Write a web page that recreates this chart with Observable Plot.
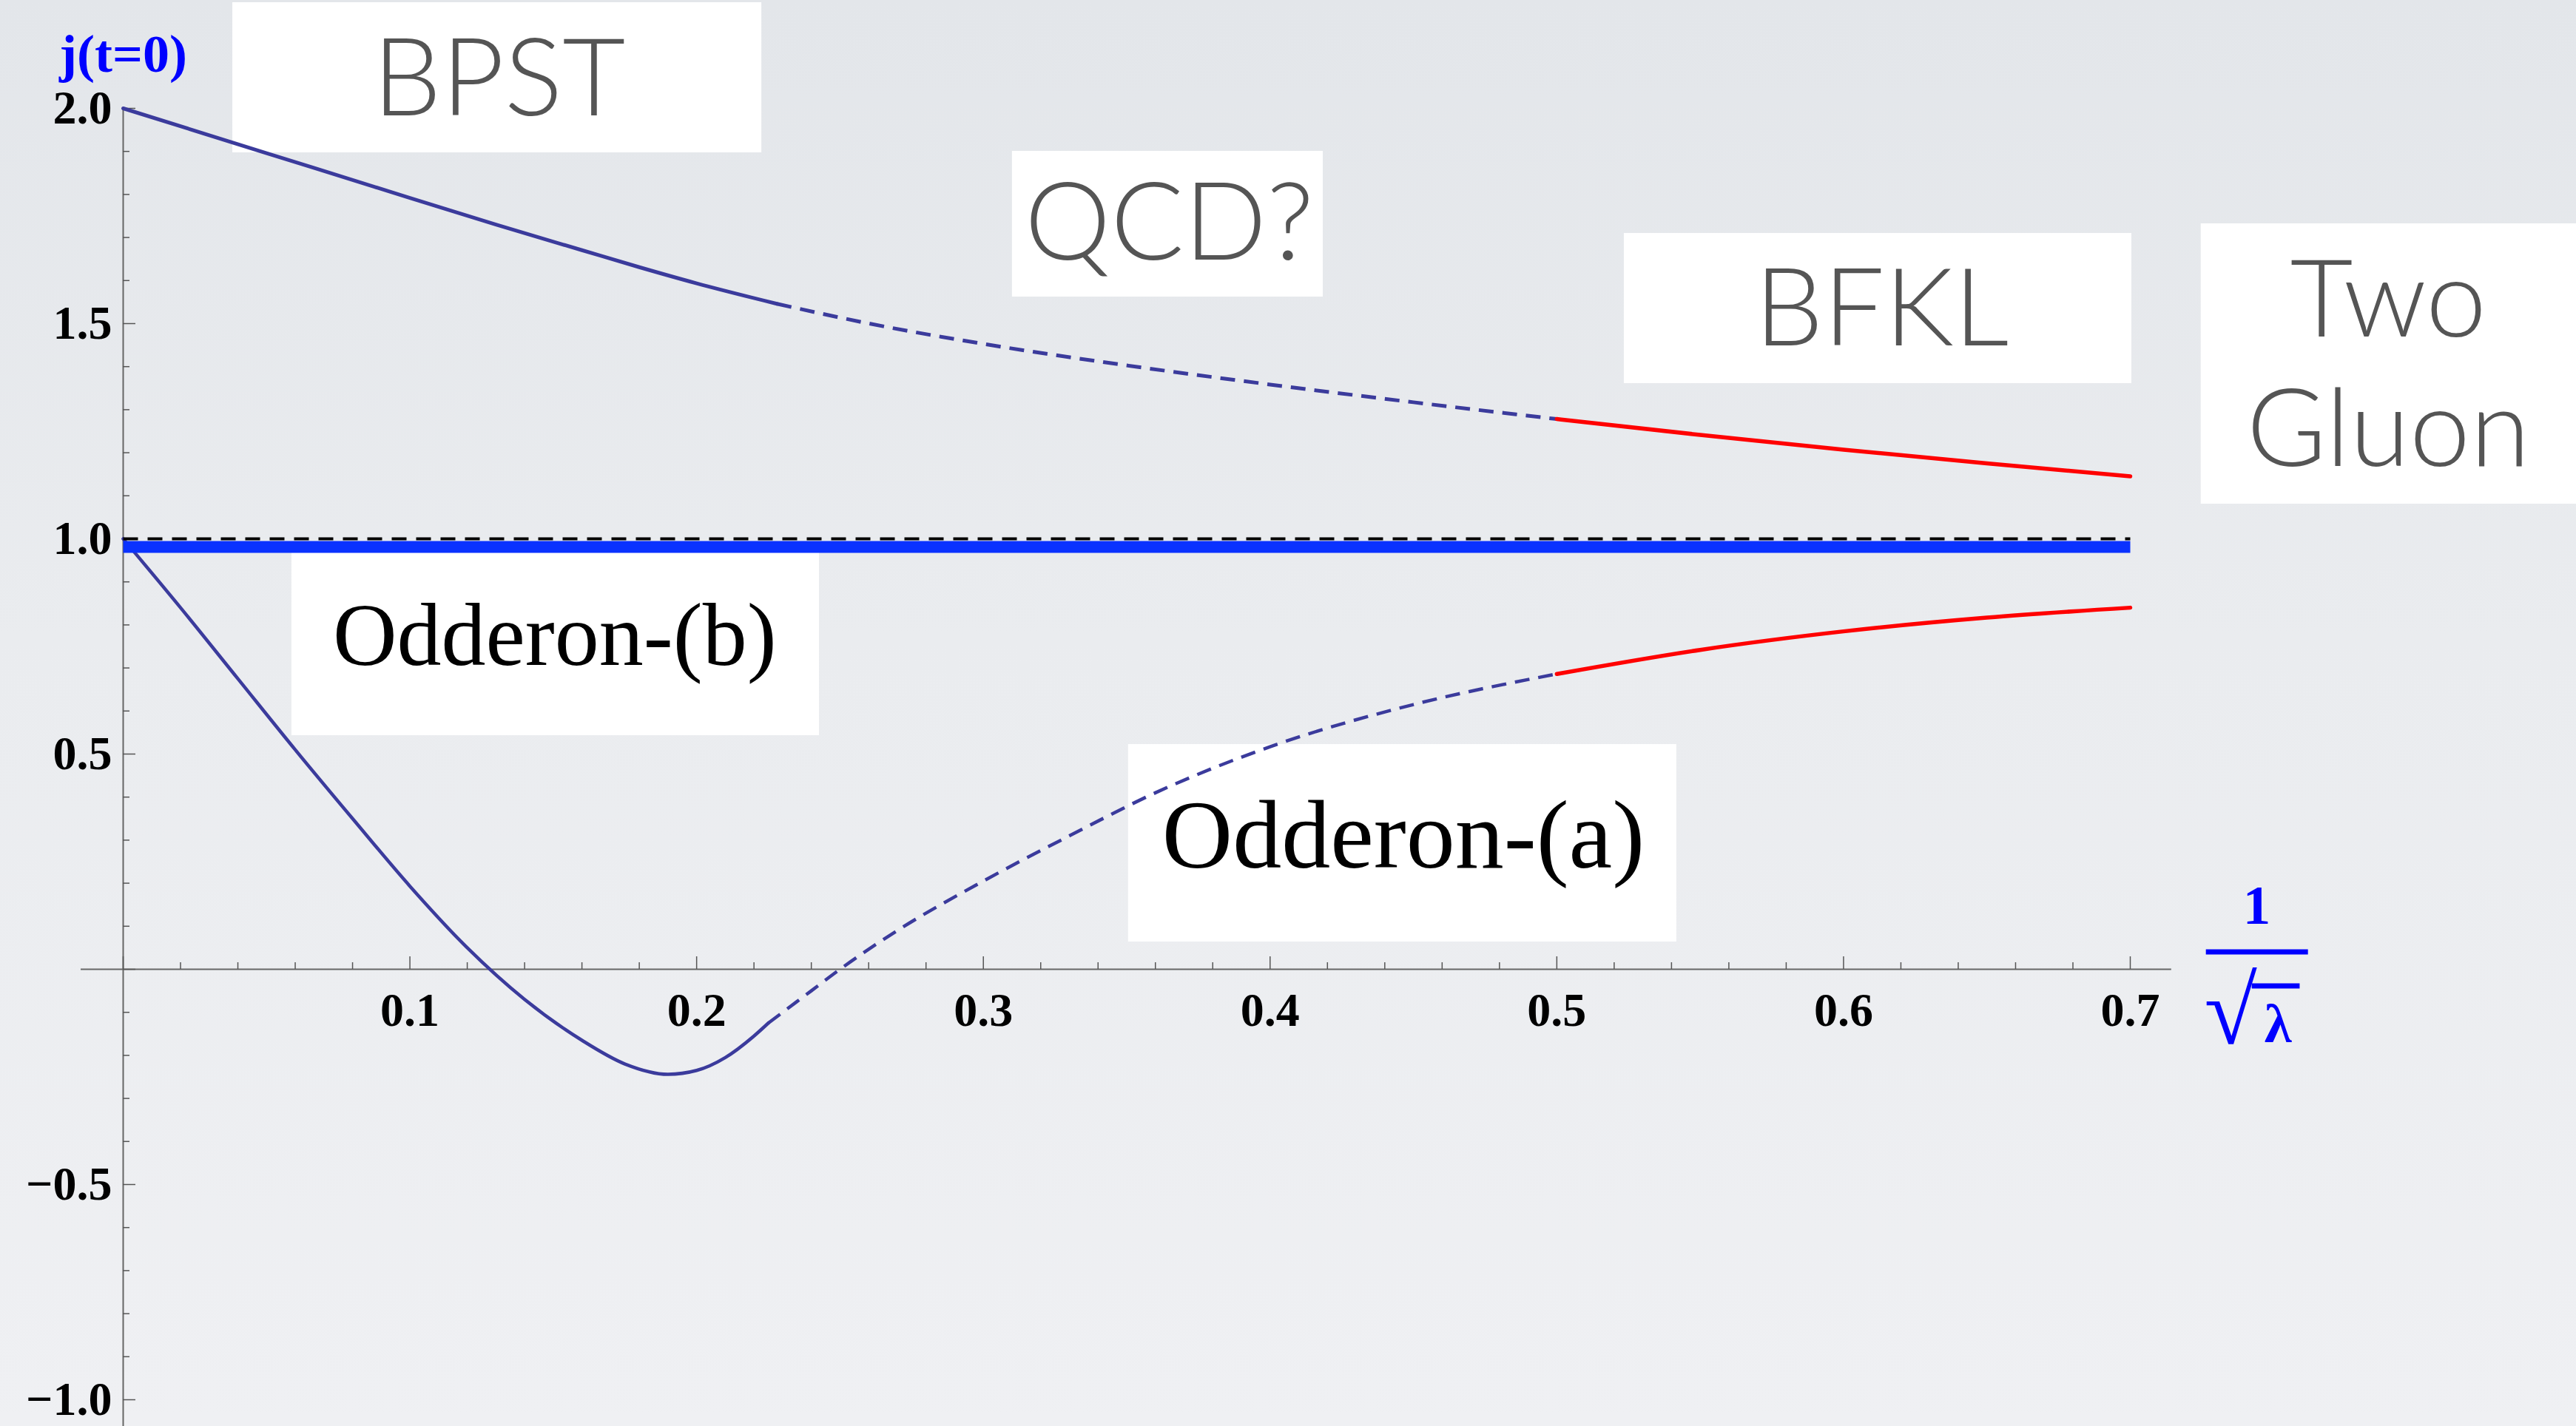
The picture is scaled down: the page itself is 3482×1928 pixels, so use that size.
<!DOCTYPE html>
<html><head><meta charset="utf-8">
<script src="https://cdn.jsdelivr.net/npm/d3@7"></script>
<script src="https://cdn.jsdelivr.net/npm/@observablehq/plot@0.6"></script>
<style>
html,body{margin:0;padding:0;}
body{width:3482px;height:1928px;overflow:hidden;background:linear-gradient(180deg,#e3e6ea 0%,#eaecef 45%,#eff0f3 100%);}
#chart svg{display:block;}
</style></head><body><div id="chart"></div>
<script>
// ---- Data ----
const bpstSolid = [[0,2.0],[0.05,1.896],[0.1,1.792],[0.13,1.730],[0.16,1.6705],[0.18,1.631],[0.2,1.5935],[0.228,1.546]];
const bpstDashed = [[0.228,1.546],[0.26,1.5003],[0.3,1.4529],[0.35,1.4029],[0.4,1.3584],[0.45,1.3172],[0.5,1.2782]];
const bfklUpper = [[0.5,1.2782],[0.55,1.2414],[0.6,1.2071],[0.65,1.1751],[0.7,1.1451]];
const odderonSolid = [[0,1.0],[0.02,0.84],[0.04,0.675],[0.06,0.51],[0.08,0.35],[0.1,0.193],[0.12,0.05],[0.14,-0.07],[0.16,-0.165],[0.175,-0.22],[0.19,-0.244],[0.2,-0.235],[0.21,-0.205],[0.22,-0.155],[0.225,-0.125]];
const odderonDashed = [[0.225,-0.125],[0.24,-0.05],[0.25,0.0],[0.27,0.09],[0.3,0.205],[0.33,0.31],[0.36,0.41],[0.4,0.517],[0.45,0.615],[0.5,0.686]];
const bfklLower = [[0.5,0.686],[0.55,0.742],[0.6,0.785],[0.65,0.817],[0.7,0.840]];
const twoGluonLevel = [[0,1.0],[0.7,1.0]];
const odderonBLevel = [[0,0.981],[0.7,0.981]];

const xTickLabels = [0.1,0.2,0.3,0.4,0.5,0.6,0.7];
const yTickLabels = [2.0,1.5,1.0,0.5,-0.5,-1.0];

// ---- Annotations (data units) ----
const boxes = [
  {name:"BPST", x1:0.0382, x2:0.2227, y1:2.2457, y2:1.8969},
  {name:"QCD?", x1:0.3101, x2:0.4185, y1:1.9003, y2:1.5619},
  {name:"BFKL", x1:0.5235, x2:0.7005, y1:1.7096, y2:1.3608},
  {name:"Two Gluon", x1:0.7247, x2:0.8560, y1:1.7320, y2:1.0808},
  {name:"Odderon-(b)", x1:0.0588, x2:0.2428, y1:0.9674, y2:0.5430},
  {name:"Odderon-(a)", x1:0.3506, x2:0.5418, y1:0.5223, y2:0.0636}
];
const sansLabels = [
  {text:"BPST", x:0.1311, y:1.9845},
  {text:"QCD?", x:0.3648, y:1.6478},
  {text:"BFKL", x:0.6133, y:1.4485},
  {text:"Two\nGluon", x:0.790, y:1.1701}
];
const serifLabels = [
  {text:"Odderon-(b)", x:0.1505, y:0.707, size:120},
  {text:"Odderon-(a)", x:0.4465, y:0.2371, size:132}
];

// ---- Layout ----
const W = 3482, H = 1928;
const mL = 166, mR = 603, mT = 146, mB = 36;
const xDom = [0, 0.7], yDom = [-1, 2];
const pxX = (W - mL - mR) / (xDom[1] - xDom[0]);
const pxY = (H - mT - mB) / (yDom[1] - yDom[0]);

const isMajorX = d => Math.abs(d * 10 - Math.round(d * 10)) < 1e-6;
const isMajorY = d => Math.abs(d * 2 - Math.round(d * 2)) < 1e-6;
const xTicks = d3.range(0, 36).map(i => +(i * 0.02).toFixed(2));
const yTicks = d3.range(0, 31).map(i => +(-1 + i * 0.1).toFixed(1));
const fmt = d => (d < 0 ? "\u2212" : "") + Math.abs(d).toFixed(1);

const curveColor = "#3b3b9c";
const SERIF = "Liberation Serif, Times New Roman, serif";
const SANS = "Lato, Open Sans, sans-serif";
const BLUE = "#0000ff";

const line = (data, opts) => Plot.line(data, {x: d => d[0], y: d => d[1], curve: "monotone-x", ...opts});

const chart = Plot.plot({
  width: W, height: H,
  marginLeft: mL, marginRight: mR, marginTop: mT, marginBottom: mB,
  x: {domain: xDom, axis: null},
  y: {domain: yDom, axis: null},
  style: {background: "transparent", overflow: "visible"},
  marks: [
    Plot.rect(boxes, {x1: "x1", x2: "x2", y1: "y1", y2: "y2", fill: "white"}),
    // axes
    Plot.ruleY([0], {x1: -0.0147, x2: 0.7144, stroke: "#666", strokeWidth: 2}),
    Plot.ruleX([0], {y1: -1.07, y2: 2.0, stroke: "#666", strokeWidth: 2}),
    Plot.ruleX(xTicks, {x: d => d, y1: 0, y2: d => (isMajorX(d) ? 17 : 9) / pxY, stroke: "#555", strokeWidth: 1.5}),
    Plot.ruleY(yTicks, {y: d => d, x1: 0, x2: d => (isMajorY(d) ? 17 : 9) / pxX, stroke: "#555", strokeWidth: 1.5}),
    Plot.text(xTickLabels, {x: d => d, y: 0, text: d => d.toFixed(1), dy: 76, lineAnchor: "bottom", fontSize: 64, fontWeight: "bold", fontFamily: SERIF, fill: "black"}),
    Plot.text(yTickLabels, {x: 0, y: d => d, text: fmt, dx: -15, textAnchor: "end", lineAnchor: "middle", fontSize: 64, fontWeight: "bold", fontFamily: SERIF, fill: "black"}),
    // curves
    line(odderonSolid, {stroke: curveColor, strokeWidth: 4.5}),
    line(odderonDashed, {stroke: curveColor, strokeWidth: 4.5, strokeDasharray: "20,12", strokeLinecap: "butt"}),
    line(bfklLower, {stroke: "#ff0000", strokeWidth: 5.5}),
    line(bpstSolid, {stroke: curveColor, strokeWidth: 5}),
    line(bpstDashed, {stroke: curveColor, strokeWidth: 5, strokeDasharray: "20,12", strokeLinecap: "butt"}),
    line(bfklUpper, {stroke: "#ff0000", strokeWidth: 5.5}),
    line(odderonBLevel, {stroke: "#0a32ff", strokeWidth: 16, curve: "linear", strokeLinecap: "butt"}),
    line(twoGluonLevel, {stroke: "black", strokeWidth: 4, strokeDasharray: "20,13", curve: "linear", strokeLinecap: "butt"}),
    // labels
    Plot.text(sansLabels, {x: "x", y: "y", text: "text", lineAnchor: "bottom", lineHeight: 1.19, fontSize: 147, fontWeight: 300, fontFamily: SANS, fill: "#555555"}),
    Plot.text(serifLabels, {x: "x", y: "y", text: "text", lineAnchor: "bottom", fontSize: d => d.size, fontFamily: SERIF, fill: "black"}),
    // axis titles
    Plot.text(["j(t=0)"], {x: 0, y: 2.085, text: d => d, lineAnchor: "bottom", fontSize: 72, fontWeight: "bold", fontFamily: SERIF, fill: BLUE}),
    Plot.text(["1"], {x: 0.7441, y: 0.1065, text: d => d, lineAnchor: "bottom", fontSize: 75, fontWeight: "bold", fontFamily: SERIF, fill: BLUE}),
    Plot.ruleY([0.0404], {x1: 0.7265, x2: 0.7621, stroke: BLUE, strokeWidth: 7}),
    Plot.text(["\u221A"], {x: 0.7258, y: -0.1735, text: d => d, textAnchor: "start", lineAnchor: "bottom", fontSize: 130, fontWeight: "bold", fontFamily: SERIF, fill: BLUE}),
    Plot.ruleY([-0.0387], {x1: 0.7425, x2: 0.7592, stroke: BLUE, strokeWidth: 7}),
    Plot.text(["\u03BB"], {x: 0.7515, y: -0.1684, text: d => d, lineAnchor: "bottom", fontSize: 75, fontWeight: "bold", fontFamily: SERIF, fill: BLUE})
  ]
});
document.getElementById("chart").appendChild(chart);
</script>
</body></html>
